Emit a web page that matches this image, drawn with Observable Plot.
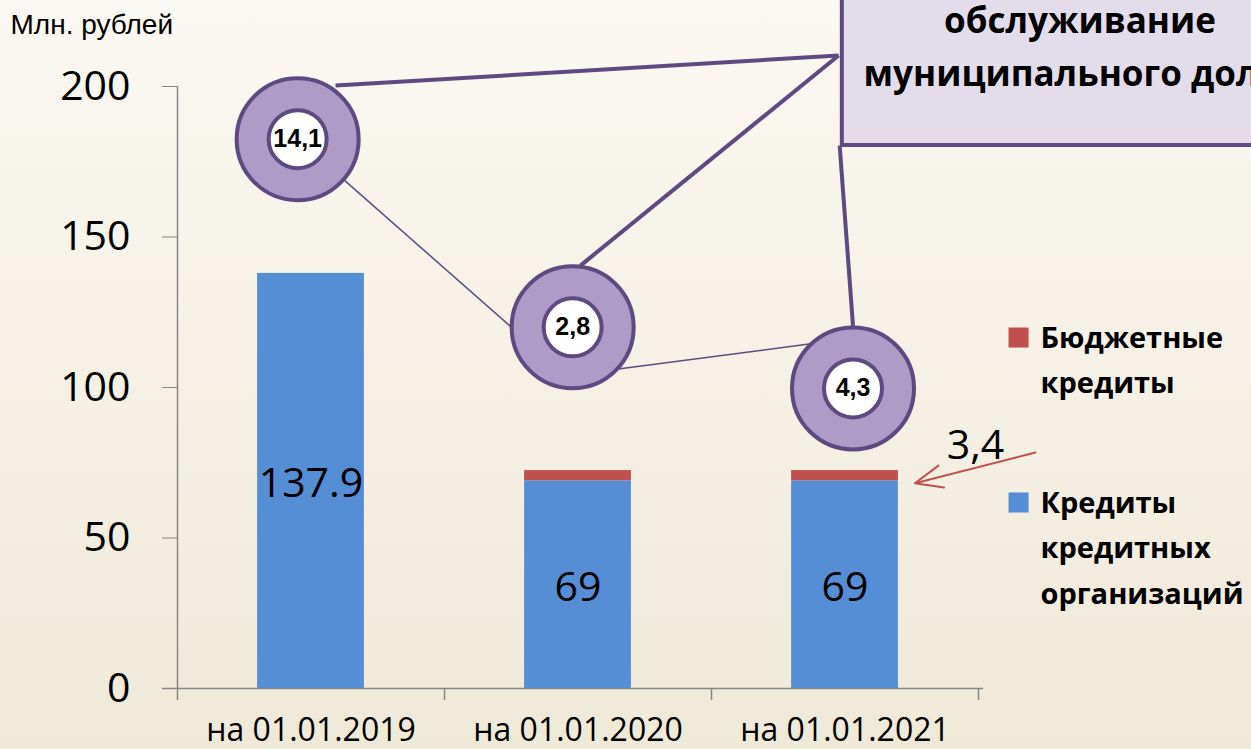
<!DOCTYPE html>
<html><head><meta charset="utf-8">
<script src="https://cdn.jsdelivr.net/npm/d3@7"></script>
<script src="https://cdn.jsdelivr.net/npm/@observablehq/plot@0.6"></script>
<style>
html,body{margin:0;padding:0;overflow:hidden;}
body{width:1251px;height:749px;background:linear-gradient(#faf8f2,#efe9d8);}
svg{display:block;}
</style></head><body><div id="chart"></div>
<script>
// ---- data ----
const categories = ["на 01.01.2019", "на 01.01.2020", "на 01.01.2021"];
const bankCredits = [137.9, 69, 69];
const budgetCredits = [0, 3.4, 3.4];
const bankLabels = ["137.9", "69", "69"];
const budgetNote = "3,4";
const seriesNames = ["Бюджетные кредиты", "Кредиты кредитных организаций"];
const seriesLegendLines = [["Бюджетные", "кредиты"], ["Кредиты", "кредитных", "организаций"]];
const debtServiceLabels = ["14,1", "2,8", "4,3"];
const calloutLines = ["обслуживание", "муниципального долга"];
const yTicks = [0, 50, 100, 150, 200];
const unitLabel = "Млн. рублей";

// ---- layout (annotation placement in data units) ----
const W = 1251, H = 749;
const mL = 177, mR = 273, mT = 86, mB = 61;
const pxX = (W - mL - mR) / 3;      // px per x unit
const pxY = (H - mT - mB) / 200;    // px per y unit
const barHalf = 0.2;
const donutPos = [{x: -0.05, y: 182.5}, {x: 0.98, y: 120}, {x: 2.03, y: 99.7}];
const calloutCorner = {x: 1.976, y: 210.3};
const calloutBottom = {x: 1.98, y: 180.4};
const leaderEnds = [{x: 0.092, y: 200.3}, {x: 1.009, y: 140.5}, {x: 2.03, y: 120.5}];

const colors = {bank: "#558ed5", budget: "#c0504d", purple: "#5e4a80", lav: "#ae9bc7", axis: "#868686"};

const bars = [];
categories.forEach((c, i) => {
  bars.push({i, s: "bank", y1: 0, y2: bankCredits[i]});
  if (budgetCredits[i] > 0) bars.push({i, s: "budget", y1: bankCredits[i], y2: bankCredits[i] + budgetCredits[i]});
});
const donuts = debtServiceLabels.map((t, i) => ({...donutPos[i], t}));

const thinLinks = [
  {x1: donutPos[0].x, y1: donutPos[0].y, x2: 0.86, y2: 111.5},
  {x1: 1.05, y1: 105, x2: 2.0, y2: 116}
];
const leaders = [
  {x1: calloutCorner.x, y1: calloutCorner.y, x2: leaderEnds[0].x, y2: leaderEnds[0].y},
  {x1: calloutCorner.x, y1: calloutCorner.y, x2: leaderEnds[1].x, y2: leaderEnds[1].y},
  {x1: calloutBottom.x, y1: calloutBottom.y, x2: leaderEnds[2].x, y2: leaderEnds[2].y}
];

const legendSquares = [{x: 2.65, y: 116.6, c: colors.budget}, {x: 2.65, y: 61.8, c: colors.bank}];
const legendText = [];
seriesLegendLines.forEach((lines, k) => lines.forEach((t, j) => legendText.push({x: 2.732, y: legendSquares[k].y - 0.3 - j * 15.2, t})));

const calloutText = calloutLines.map((t, j) => ({x: 2.88, y: 221.4 - j * 17.6, t}));

const chart = Plot.plot({
  width: W, height: H,
  marginLeft: mL, marginRight: mR, marginTop: mT, marginBottom: mB,
  x: {type: "linear", domain: [-0.5, 2.5]},
  y: {domain: [0, 200]},
  style: {background: "transparent", fontFamily: "Open Sans", overflow: "hidden"},
  marks: [
    // axes
    Plot.axisY({ticks: yTicks, tickSize: 15, tickPadding: 32, fontSize: 41, stroke: colors.axis, fill: "#000", label: null}),
    Plot.ruleX([-0.5], {y1: 0, y2: 200, stroke: colors.axis, strokeWidth: 1.5}),
    Plot.ruleY([0], {x1: -0.5 - 15 / pxX, x2: 2.5 + 5 / pxX, stroke: colors.axis, strokeWidth: 1.5}),
    Plot.axisX({ticks: [-0.5, 0.5, 1.5, 2.5], tickSize: 12, tickFormat: () => "", stroke: colors.axis, strokeWidth: 1.5, label: null}),
    Plot.axisX({ticks: [0, 1, 2], tickSize: 0, tickPadding: 30, tickFormat: i => categories[i], fontSize: 32, fill: "#000", label: null}),
    // bars
    Plot.rectY(bars, {x1: d => d.i - barHalf, x2: d => d.i + barHalf, y1: "y1", y2: "y2", fill: d => colors[d.s]}),
    Plot.text(bankCredits, {x: (d, i) => i, y: d => d / 2, dy: 3, text: (d, i) => bankLabels[i], fontSize: 41, fill: "#000"}),
    // 3,4 note + arrow
    Plot.text([budgetNote], {x: 2.489, y: 80.7, text: d => d, fontSize: 41, fill: "#000"}),
    Plot.arrow([{x1: 2.713, y1: 78.4, x2: 2.262, y2: 68.2}], {x1: "x1", y1: "y1", x2: "x2", y2: "y2", stroke: colors.budget, strokeWidth: 2, headLength: 22, headAngle: 45}),
    // thin connecting lines
    Plot.link(thinLinks, {x1: "x1", y1: "y1", x2: "x2", y2: "y2", stroke: colors.purple, strokeWidth: 1.5}),
    // callout box + leaders
    Plot.link(leaders, {x1: "x1", y1: "y1", x2: "x2", y2: "y2", stroke: colors.purple, strokeWidth: 4}),
    Plot.rect([{x1: 1.99, x2: 3.9, y1: 180.4, y2: 260}], {x1: "x1", x2: "x2", y1: "y1", y2: "y2", fill: "#e3ddeb", stroke: colors.purple, strokeWidth: 4}),
    Plot.text(calloutText, {x: "x", y: "y", text: "t", fontSize: 35, fontWeight: "bold", fill: "#000"}),
    // donuts
    Plot.dot(donuts, {x: "x", y: "y", r: 61, fill: colors.lav, stroke: colors.purple, strokeWidth: 4}),
    Plot.dot(donuts, {x: "x", y: "y", r: 29, fill: "white", stroke: colors.purple, strokeWidth: 4}),
    Plot.text(donuts, {x: "x", y: "y", text: "t", fontSize: 25, fontWeight: "bold", fontFamily: "Liberation Sans", fill: "#000"}),
    // legend
    Plot.dot(legendSquares, {x: "x", y: "y", symbol: "square", r: 11.3, fill: "c"}),
    Plot.text(legendText, {x: "x", y: "y", text: "t", textAnchor: "start", fontSize: 29, fontWeight: "bold", fill: "#000"}),
    // unit label
    Plot.text([unitLabel], {x: -0.5 - 167 / pxX, y: 220.5, text: d => d, textAnchor: "start", fontSize: 28, fontFamily: "Liberation Sans", fill: "#000"})
  ]
});
document.getElementById("chart").appendChild(chart);
</script></body></html>
